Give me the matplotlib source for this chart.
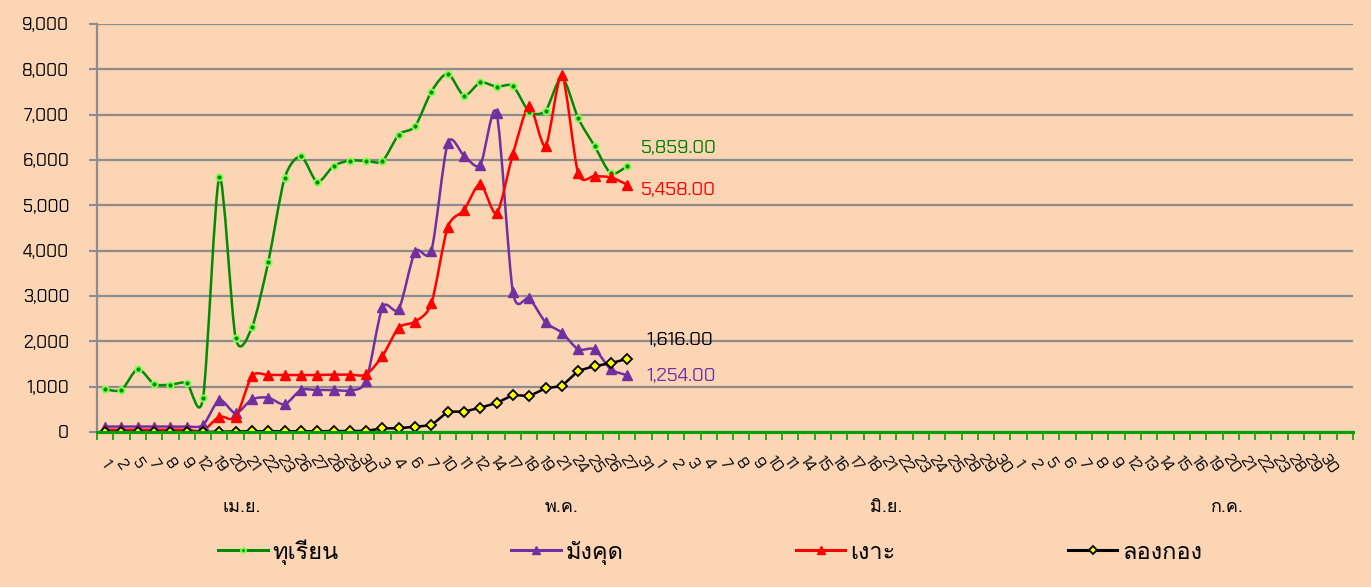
import numpy as np
import matplotlib
matplotlib.use("Agg")
import matplotlib.pyplot as plt
from matplotlib.path import Path
from matplotlib.patches import PathPatch
from matplotlib.lines import Line2D

apr_days = [1, 2, 5, 7, 8, 9, 12, 19, 20, 21, 22, 23, 26, 27, 28, 29, 30]
may_days = [3, 4, 6, 7, 10, 11, 12, 14, 17, 18, 19, 21, 24, 25, 26, 27, 31]
jun_days = [1, 2, 3, 4, 7, 8, 9, 10, 11, 14, 15, 16, 17, 18, 21, 22, 23, 24, 25, 28, 29, 30]
jul_days = [1, 2, 5, 6, 7, 8, 9, 12, 13, 14, 15, 16, 19, 20, 21, 22, 23, 28, 29, 30]
months = ["เม.ย.", "พ.ค.", "มิ.ย.", "ก.ค."]
month_pos = [8.4, 28.0, 47.9, 68.8]

series_names = ["ทุเรียน", "มังคุด", "เงาะ", "ลองกอง"]
durian = [942, 929, 1390, 1059, 1044, 1081, 750, 5618, 2074, 2309, 3750, 5596, 6081,
          5515, 5868, 5986, 5978, 5978, 6560, 6742, 7510, 7905, 7420, 7710, 7615, 7630,
          7066, 7088, 7825, 6920, 6310, 5706, 5859]
mangosteen = [120, 120, 120, 120, 120, 120, 154, 706, 412, 721, 757, 610, 926, 926, 926,
              919, 1132, 2750, 2710, 3978, 4000, 6368, 6096, 5890, 7031, 3081, 2949, 2420,
              2191, 1824, 1824, 1383, 1254]
rambutan = [50, 50, 50, 50, 50, 50, 30, 338, 324, 1235, 1257, 1257, 1257, 1257, 1265, 1265,
            1270, 1676, 2301, 2434, 2838, 4516, 4897, 5471, 4824, 6133, 7192, 6309, 7876,
            5706, 5647, 5618, 5458]
longkong = [0, 0, 0, 0, 0, 0, 0, 5, 10, 15, 15, 15, 15, 15, 20, 20, 25, 81, 81, 118, 147,
            449, 449, 537, 640, 816, 794, 963, 1015, 1346, 1456, 1515, 1616]

labels = [str(d) for d in apr_days + may_days + jun_days + jul_days] + [""]
ncat = len(labels)

bg = "#FCD5B5"
plt.rcParams["font.family"] = ["Chakra Petch", "Loma", "DejaVu Sans"]
thai_font = ["Loma", "Chakra Petch", "DejaVu Sans"]


def smooth_path(x, y, k=7.5):
    verts = [(x[0], y[0])]
    codes = [Path.MOVETO]
    n = len(x)
    for i in range(n - 1):
        a = max(i - 1, 0)
        b = min(i + 2, n - 1)
        c1 = (x[i] + (x[i + 1] - x[a]) / k, y[i] + (y[i + 1] - y[a]) / k)
        c2 = (x[i + 1] - (x[b] - x[i]) / k, y[i + 1] - (y[b] - y[i]) / k)
        verts += [c1, c2, (x[i + 1], y[i + 1])]
        codes += [Path.CURVE4] * 3
    return Path(verts, codes)


fig = plt.figure(figsize=(13.71, 5.87), dpi=100, facecolor=bg)
ax = fig.add_axes([97 / 1371, 1 - 432 / 587, 1256 / 1371, 408 / 587])
ax.set_facecolor(bg)

styles = [
    dict(data=durian, color="#008C00", marker="o", mfc="#0A8A0A", mec="#80FF50", ms=4.5, mew=1.4, smooth=True),
    dict(data=mangosteen, color="#7030A0", marker="^", mfc="#7030A0", mec="#7030A0", ms=7, mew=1, smooth=True),
    dict(data=rambutan, color="#FF0000", marker="^", mfc="#FF0000", mec="#FF0000", ms=7, mew=1, smooth=True),
    dict(data=longkong, color="#000000", marker="D", mfc="#FFFF00", mec="#000000", ms=5, mew=1.3, smooth=False),
]
handles = []
for name, s in zip(series_names, styles):
    x = np.arange(len(s["data"]))
    y = np.array(s["data"], dtype=float)
    if s["smooth"]:
        ax.add_patch(PathPatch(smooth_path(x, y), fill=False, edgecolor=s["color"], lw=1.8, zorder=3))
    else:
        ax.plot(x, y, color=s["color"], lw=1.8, zorder=3)
    ax.plot(x, y, ls="none", marker=s["marker"], mfc=s["mfc"], mec=s["mec"], ms=s["ms"], mew=s["mew"], zorder=4)
    handles.append(Line2D([], [], color=s["color"], lw=2.2, marker=s["marker"], mfc=s["mfc"],
                          mec=s["mec"], ms=s["ms"] - 1, mew=s["mew"]))

# end-of-line value labels
ends = [(durian, "#008000", (10, 13)), (rambutan, "#FF0000", (10, -4)),
        (longkong, "#000000", (14, 13)), (mangosteen, "#7030A0", (14, -1))]
for data, col, off in ends:
    ax.annotate(f"{data[-1]:,.2f}", (len(data) - 1, data[-1]), xytext=off, textcoords="offset points",
                ha="left", va="center", color=col, fontsize=13.5)

ax.set_xlim(-0.5, ncat - 0.5)
ax.set_ylim(0, 9000)
ax.set_yticks(np.arange(0, 9001, 1000))
ax.set_yticklabels([f"{v:,}" for v in range(0, 9001, 1000)], fontsize=12.5)
ax.grid(axis="y", color="#8C8C8C", lw=1.6, zorder=1)
ax.tick_params(axis="y", length=6, width=1.5, color="#8C8C8C", pad=14)

ax.set_xticks(np.arange(-0.5, ncat), minor=False)
ax.set_xticklabels([])
ax.tick_params(axis="x", which="major", length=6, width=1.2, color="#00A000", direction="out")
ax.set_xticks(np.arange(ncat), minor=True)
ax.set_xticklabels(labels, minor=True, rotation=-55, ha="center", va="center", fontsize=12)
ax.tick_params(axis="x", which="minor", length=0, pad=23)

for sp in ["top", "right"]:
    ax.spines[sp].set_visible(False)
ax.spines["left"].set_color("#8C8C8C")
ax.spines["left"].set_linewidth(1.6)
ax.spines["bottom"].set_color("#00A000")
ax.spines["bottom"].set_linewidth(2.2)
ax.spines["bottom"].set_zorder(5)

for m, p in zip(months, month_pos):
    ax.text(p, -0.183, m, transform=ax.get_xaxis_transform(), ha="center", va="center",
            fontsize=13, family=thai_font)

fig.legend(handles, series_names, loc="center", bbox_to_anchor=(0.518, 0.06), ncol=4, frameon=False,
           prop={"family": thai_font, "size": 17}, handlelength=2.1, handletextpad=0.2, columnspacing=7.3)

fig.savefig("out.png", dpi=100, facecolor=bg)
